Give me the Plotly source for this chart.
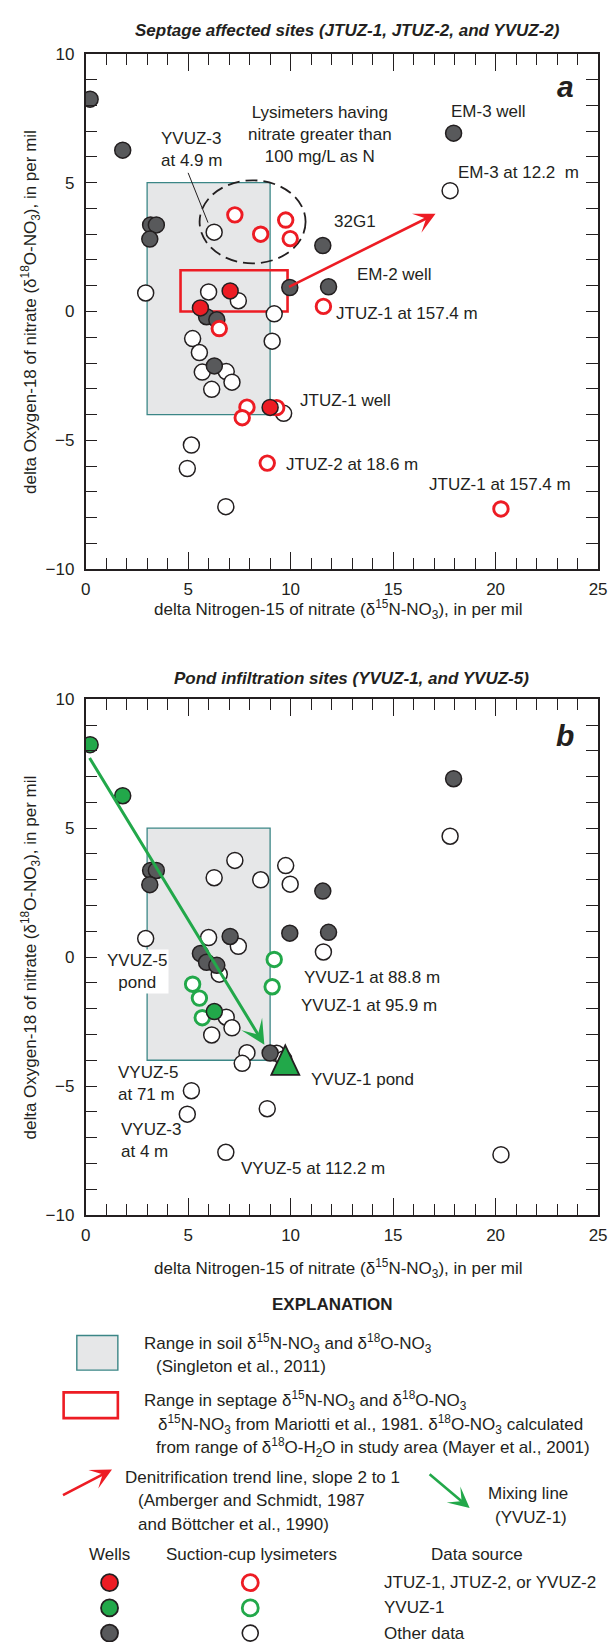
import plotly.graph_objects as go

# ---------------------------------------------------------------
# Nitrate isotopes: delta 15N (x) and delta 18O (y), per mil
# ---------------------------------------------------------------
# Wells (filled symbols)
well_septage_n15 = [5.60, 7.05, 9.00]
well_septage_o18 = [0.14, 0.80, -3.72]
well_yvuz1_n15 = [0.22, 1.81, 6.28]
well_yvuz1_o18 = [8.24, 6.26, -2.11]
well_other_n15 = [3.17, 3.45, 3.13, 11.57, 17.95, 9.96, 11.85, 5.90, 6.40]
well_other_o18 = [3.36, 3.36, 2.81, 2.56, 6.92, 0.93, 0.96, -0.20, -0.32]

# Suction-cup lysimeters (open symbols)
lys_septage_n15 = [7.28, 8.54, 9.76, 9.98, 11.60, 6.52, 7.87, 7.64, 9.32, 8.86, 20.26]
lys_septage_o18 = [3.75, 3.00, 3.55, 2.83, 0.20, -0.66, -3.71, -4.12, -3.73, -5.88, -7.66]
lys_yvuz1_n15 = [9.20, 9.10, 5.22, 5.55, 5.69]
lys_yvuz1_o18 = [-0.09, -1.15, -1.05, -1.59, -2.35]
lys_other_n15 = [6.27, 17.78, 2.93, 6.00, 7.45, 6.86, 7.14, 6.15, 9.66, 5.16, 4.96, 6.84]
lys_other_o18 = [3.08, 4.69, 0.72, 0.76, 0.42, -2.33, -2.74, -3.02, -3.95, -5.18, -6.09, -7.57]

# YVUZ-1 pond water
pond_n15 = [9.74]
pond_o18 = [-4.10]

# Reference ranges and trend lines
soil_n15 = [3.0, 9.0]
soil_o18 = [-4.0, 5.0]
septage_n15 = [4.63, 9.85]
septage_o18 = [0.0, 1.6]
high_nitrate_n15 = [5.56, 10.73]
high_nitrate_o18 = [1.87, 5.09]
denit_n15 = [9.85, 17.07]
denit_o18 = [0.93, 3.79]
mixing_n15 = [0.15, 8.72]
mixing_o18 = [7.78, -3.40]

x_range = [0, 25]
y_range = [-10, 10]

# ---------------------------------------------------------------
FONT = "Liberation Sans, Arial, sans-serif"
INK = "#231f20"
RED = "#ed1c24"
GREEN = "#22a84a"
DARK = "#58595b"
SOIL_FILL = "#e6e7e8"
SOIL_EDGE = "#3b8686"

W, H = 612, 1652
PLOT_L, PLOT_R = 82.5, 607.0
A_TOP, A_BOT = 45.3, 566.8
B_TOP, B_BOT = 698.3, 1220.0


def px(x):
    return x / W


def py(y):
    return 1 - y / H


fig = go.Figure()


def add_points(xa, ya, highlight):
    """Draw all samples; the chosen data source is coloured, the rest grey/white."""
    if highlight == "septage":
        hi_col = RED
        hi_well = (well_septage_n15, well_septage_o18)
        hi_lys = (lys_septage_n15, lys_septage_o18)
        lo_well = (well_yvuz1_n15 + well_other_n15, well_yvuz1_o18 + well_other_o18)
        lo_lys = (lys_yvuz1_n15 + lys_other_n15, lys_yvuz1_o18 + lys_other_o18)
    else:
        hi_col = GREEN
        hi_well = (well_yvuz1_n15, well_yvuz1_o18)
        hi_lys = (lys_yvuz1_n15, lys_yvuz1_o18)
        lo_well = (well_septage_n15 + well_other_n15, well_septage_o18 + well_other_o18)
        lo_lys = (lys_septage_n15 + lys_other_n15, lys_septage_o18 + lys_other_o18)

    fig.add_trace(go.Scatter(
        x=lo_lys[0], y=lo_lys[1], mode="markers", xaxis=xa, yaxis=ya,
        marker=dict(size=16, color="white", line=dict(color=INK, width=1.5))))
    fig.add_trace(go.Scatter(
        x=lo_well[0], y=lo_well[1], mode="markers", xaxis=xa, yaxis=ya,
        marker=dict(size=16, color=DARK, line=dict(color=INK, width=1.5))))
    fig.add_trace(go.Scatter(
        x=hi_lys[0], y=hi_lys[1], mode="markers", xaxis=xa, yaxis=ya,
        marker=dict(size=14.5, color="white", line=dict(color=hi_col, width=2.9))))
    fig.add_trace(go.Scatter(
        x=hi_well[0], y=hi_well[1], mode="markers", xaxis=xa, yaxis=ya,
        marker=dict(size=16, color=hi_col, line=dict(color=INK, width=1.5))))


add_points("x", "y", "septage")
add_points("x2", "y2", "yvuz1")

# Legend swatches (pixel-like hidden axis at the bottom of the page)
legend_rows = [1592, 1617.5, 1643]
legend_cols = [107, 251]
legend_fill = [RED, GREEN, DARK]
legend_ring = [RED, GREEN, INK]
fig.add_trace(go.Scatter(
    x=[legend_cols[0]] * 3, y=legend_rows, mode="markers", xaxis="x3", yaxis="y3",
    marker=dict(size=17, color=legend_fill, line=dict(color=INK, width=1.8))))
fig.add_trace(go.Scatter(
    x=[legend_cols[1]] * 3, y=legend_rows, mode="markers", xaxis="x3", yaxis="y3",
    marker=dict(size=16, color="white",
                line=dict(color=legend_ring, width=[2.8, 2.8, 1.6]))))

# ---------------------------------------------------------------
# Axes
tick_font = dict(family=FONT, size=17, color=INK)


def xaxis_spec(anchor):
    return dict(
        domain=[px(PLOT_L), px(PLOT_R)], anchor=anchor, range=x_range,
        tickmode="linear", tick0=0, dtick=5, ticks="inside", ticklen=17,
        tickwidth=1.3, tickcolor=INK, tickfont=tick_font,
        minor=dict(ticks="inside", dtick=1, ticklen=11, tickwidth=1.3, tickcolor=INK),
        showline=True, linecolor=INK, linewidth=1.6, mirror="allticks",
        showgrid=False, zeroline=False, ticklabelstandoff=4,
        ticklabeloverflow="allow")


def yaxis_spec(anchor, top, bot):
    return dict(
        domain=[py(bot), py(top)], anchor=anchor, range=y_range,
        tickmode="linear", tick0=0, dtick=5, ticks="inside", ticklen=12,
        tickwidth=1.3, tickcolor=INK, tickfont=tick_font,
        minor=dict(ticks="inside", dtick=1, ticklen=12, tickwidth=1.3, tickcolor=INK),
        showline=True, linecolor=INK, linewidth=1.6, mirror="allticks",
        showgrid=False, zeroline=False, ticklabelstandoff=6,
        ticklabeloverflow="allow")


fig.update_layout(
    width=W, height=H, margin=dict(l=0, r=0, t=0, b=0),
    paper_bgcolor="white", plot_bgcolor="white", showlegend=False,
    font=dict(family=FONT, size=17, color=INK),
    xaxis=xaxis_spec("y"),
    yaxis=yaxis_spec("x", A_TOP, A_BOT),
    xaxis2=xaxis_spec("y2"),
    yaxis2=yaxis_spec("x2", B_TOP, B_BOT),
    xaxis3=dict(domain=[0, 1], anchor="y3", range=[0, W], visible=False),
    yaxis3=dict(domain=[0, py(1572)], anchor="x3", range=[H, 1572], visible=False),
)

# ---------------------------------------------------------------
# Shapes
shapes = []
for xr, yr in (("x", "y"), ("x2", "y2")):
    shapes.append(dict(type="rect", xref=xr, yref=yr, layer="below",
                       x0=soil_n15[0], x1=soil_n15[1], y0=soil_o18[0], y1=soil_o18[1],
                       fillcolor=SOIL_FILL, line=dict(color=SOIL_EDGE, width=1.3)))
shapes.append(dict(type="rect", xref="x", yref="y", layer="below",
                   x0=septage_n15[0], x1=septage_n15[1], y0=septage_o18[0], y1=septage_o18[1],
                   fillcolor="rgba(0,0,0,0)", line=dict(color=RED, width=2.6)))
shapes.append(dict(type="circle", xref="x", yref="y", layer="below",
                   x0=high_nitrate_n15[0], x1=high_nitrate_n15[1],
                   y0=high_nitrate_o18[0], y1=high_nitrate_o18[1],
                   line=dict(color=INK, width=1.8, dash="12px,6px")))
# leader for the YVUZ-3 label
shapes.append(dict(type="line", xref="x", yref="y", x0=5.0, y0=5.38, x1=5.97, y1=3.45,
                   line=dict(color=INK, width=1)))
# pond triangle, anchored on the pond value
shapes.append(dict(type="path", xref="x2", yref="y2", xsizemode="pixel", ysizemode="pixel",
                   xanchor=pond_n15[0], yanchor=pond_o18[0],
                   path="M -14 -12 L 14 -12 L 0 17.5 Z",
                   fillcolor=GREEN, line=dict(color=INK, width=1.8)))
# legend boxes
shapes.append(dict(type="rect", xref="paper", yref="paper",
                   x0=px(73.5), x1=px(115.5), y0=py(1377), y1=py(1342),
                   fillcolor=SOIL_FILL, line=dict(color=SOIL_EDGE, width=1.4)))
shapes.append(dict(type="rect", xref="paper", yref="paper",
                   x0=px(60), x1=px(115.5), y0=py(1425.5), y1=py(1399.5),
                   fillcolor="white", line=dict(color=RED, width=2.6)))
fig.update_layout(shapes=shapes)

# ---------------------------------------------------------------
# Annotations
ann = []


def note(text, x, y, xref, yref, xanchor="left", size=17, **kw):
    ann.append(dict(text=text, x=x, y=y, xref=xref, yref=yref, xanchor=xanchor,
                    yanchor="middle", showarrow=False, align=kw.pop("align", "left"),
                    font=dict(family=FONT, size=size, color=INK), **kw))


def arrow(x, y, ax, ay, color, xref, yref, axref, ayref, width=2.6):
    ann.append(dict(text="", x=x, y=y, ax=ax, ay=ay, xref=xref, yref=yref,
                    axref=axref, ayref=ayref, showarrow=True, arrowhead=3,
                    arrowsize=1.35, arrowwidth=width, arrowcolor=color,
                    standoff=0, startstandoff=0))


N15 = "δ<sup>15</sup>N-NO<sub>3</sub>"
O18 = "δ<sup>18</sup>O-NO<sub>3</sub>"
xtitle = "delta Nitrogen-15 of nitrate (" + N15 + "), in per mil"
ytitle = "delta Oxygen-18 of nitrate (" + O18 + "), in per mil"

# titles and axis titles
note("<b><i>Septage affected sites (JTUZ-1, JTUZ-2, and YVUZ-2)</i></b>",
     px(351), py(22), "paper", "paper", xanchor="center")
note("<b><i>Pond infiltration sites (YVUZ-1, and YVUZ-5)</i></b>",
     px(355), py(677), "paper", "paper", xanchor="center")
note(xtitle, px(341), py(607), "paper", "paper", xanchor="center")
note(xtitle, px(341), py(1274), "paper", "paper", xanchor="center")
note(ytitle, px(26), py((A_TOP + A_BOT) / 2), "paper", "paper", xanchor="center", textangle=-90)
note(ytitle, px(26), py((B_TOP + B_BOT) / 2), "paper", "paper", xanchor="center", textangle=-90)

# panel a labels
note("<b><i>a</i></b>", 23.4, 8.73, "x", "y", xanchor="center", size=30)
note("Lysimeters having<br>nitrate greater than<br>100 mg/L as N", 11.42, 6.85, "x", "y",
     xanchor="center", align="center")
note("YVUZ-3<br>at 4.9 m", 3.58, 6.27, "x", "y")
note("EM-3 well", 17.72, 7.77, "x", "y")
note("EM-3 at 12.2  m", 18.06, 5.38, "x", "y")
note("32G1", 12.0, 3.49, "x", "y")
note("EM-2 well", 13.12, 1.45, "x", "y")
note("JTUZ-1 at 157.4 m", 12.13, -0.09, "x", "y")
note("JTUZ-1 well", 10.35, -3.44, "x", "y")
note("JTUZ-2 at 18.6 m", 9.66, -5.95, "x", "y")
note("JTUZ-1 at 157.4 m", 16.64, -6.71, "x", "y")
arrow(denit_n15[1], denit_o18[1], denit_n15[0], denit_o18[0], RED, "x", "y", "x", "y")

# panel b labels
note("<b><i>b</i></b>", 23.4, 8.58, "x2", "y2", xanchor="center", size=30)
note("YVUZ-5<br>pond", 2.52, -0.55, "x2", "y2", xanchor="center", align="center",
     bgcolor="white", borderpad=1)
note("YVUZ-1 at 88.8 m", 10.54, -0.80, "x2", "y2")
note("YVUZ-1 at 95.9 m", 10.41, -1.89, "x2", "y2")
note("YVUZ-1 pond", 10.91, -4.74, "x2", "y2")
note("VYUZ-5<br>at 71 m", 1.46, -4.90, "x2", "y2")
note("VYUZ-3<br>at 4 m", 1.64, -7.10, "x2", "y2")
note("VYUZ-5 at 112.2 m", 7.46, -8.19, "x2", "y2")
arrow(mixing_n15[1], mixing_o18[1], mixing_n15[0], mixing_o18[0], GREEN, "x2", "y2", "x2", "y2",
      width=3)

# explanation
note("<b>EXPLANATION</b>", px(335), py(1311), "paper", "paper", xanchor="center")
note("Range in soil " + N15 + " and " + O18, px(140.5), py(1350), "paper", "paper")
note("(Singleton et al., 2011)", px(152.8), py(1373), "paper", "paper")
note("Range in septage " + N15 + " and " + O18, px(140.5), py(1408), "paper", "paper")
note(N15 + " from Mariotti et al., 1981. " + O18 + " calculated",
     px(154.7), py(1432), "paper", "paper")
note("from range of δ<sup>18</sup>O-H<sub>2</sub>O in study area (Mayer et al., 2001)",
     px(152.8), py(1455), "paper", "paper")
note("Denitrification trend line, slope 2 to 1", px(121), py(1486), "paper", "paper")
note("(Amberger and Schmidt, 1987", px(134), py(1509), "paper", "paper")
note("and Böttcher et al., 1990)", px(134), py(1533), "paper", "paper")
note("Mixing line", px(535), py(1502), "paper", "paper", xanchor="center")
note("(YVUZ-1)", px(538), py(1526), "paper", "paper", xanchor="center")
note("Wells", px(107), py(1563), "paper", "paper", xanchor="center")
note("Suction-cup lysimeters", px(252), py(1563), "paper", "paper", xanchor="center")
note("Data source", px(483), py(1563), "paper", "paper", xanchor="center")
source_names = ["JTUZ-1, JTUZ-2, or YVUZ-2", "YVUZ-1", "Other data"]
for name, row in zip(source_names, legend_rows):
    note(name, px(386), py(row), "paper", "paper")

# explanation arrows (pixel offsets from the head)
ann.append(dict(text="", x=px(109.5), y=py(1477.5), xref="paper", yref="paper",
                ax=-50.5, ay=26.5, showarrow=True, arrowhead=3, arrowsize=1.35,
                arrowwidth=2.6, arrowcolor=RED, standoff=0, startstandoff=0))
ann.append(dict(text="", x=px(475.5), y=py(1516.5), xref="paper", yref="paper",
                ax=-41.5, ay=-35, showarrow=True, arrowhead=3, arrowsize=1.35,
                arrowwidth=2.6, arrowcolor=GREEN, standoff=0, startstandoff=0))

fig.update_layout(annotations=ann)

fig.write_html("out.html")
